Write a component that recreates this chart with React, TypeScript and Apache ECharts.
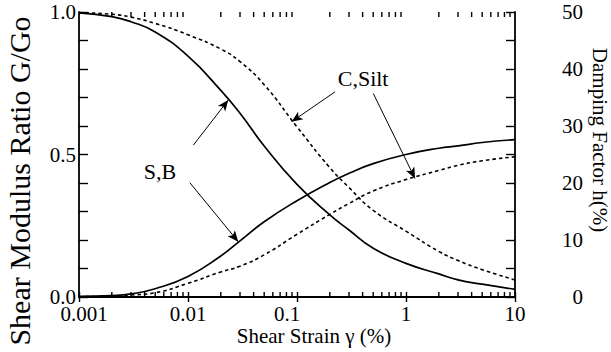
import React, { useEffect, useRef } from "react";
import * as echarts from "echarts";

// Shear strain (%) sample points
const gamma = [0.001, 0.002, 0.003, 0.005, 0.01, 0.02, 0.03, 0.05, 0.1, 0.2, 0.3, 0.5, 1, 2, 3, 5, 10];
// G/Go curves
const gSB = [0.997, 0.984, 0.966, 0.93, 0.845, 0.725, 0.645, 0.53, 0.395, 0.288, 0.235, 0.171, 0.118, 0.081, 0.06, 0.045, 0.027];
const gCS = [0.998, 0.992, 0.982, 0.96, 0.92, 0.87, 0.826, 0.745, 0.597, 0.454, 0.384, 0.304, 0.231, 0.16, 0.128, 0.096, 0.06];
// Damping factor h (%)
const hSB = [0.1, 0.25, 0.55, 1.45, 3.6, 7.2, 9.85, 13.2, 16.9, 20.1, 21.7, 23.4, 25.0, 26.1, 26.5, 27.1, 27.6];
const hCS = [0.05, 0.15, 0.35, 0.75, 2.4, 4.4, 5.4, 7.4, 11.0, 14.5, 16.4, 18.6, 20.6, 22.2, 23.1, 23.9, 24.6];

const xTickLabels = ["{a|0.001}", "{n|0.01}", "{b|0.1}", "{n|1}", "{n|10}"];
const minorTicks = [
  0.002, 0.003, 0.004, 0.005, 0.006, 0.007, 0.008, 0.009,
  0.02, 0.03, 0.04, 0.05, 0.06, 0.07, 0.08, 0.09,
  0.2, 0.3, 0.4, 0.5, 0.6, 0.7, 0.8, 0.9,
  2, 3, 4, 5, 6, 7, 8, 9,
];

// annotation arrows (data coordinates): [start, end]
const arrowSBtoG = [[0.0112, 0.533], [0.0234, 0.691]];
const arrowSBtoH = [[0.0104, 20.05], [0.0289, 9.7]];
const arrowCStoG = [[0.2234, 0.72], [0.0893, 0.615]];
const arrowCStoH = [[0.501, 35.7], [1.21, 20.8]];
const labelSB = [0.00553, 0.44];
const labelCS = [0.404, 0.765];

const FONT = "Liberation Serif";

function arrow(a: number[][]) {
  return {
    silent: true,
    symbol: ["none", "arrow"],
    symbolSize: [7, 11],
    lineStyle: { color: "#000", width: 1, type: "solid" },
    label: { show: false },
    data: [[{ coord: a[0] }, { coord: a[1] }]],
  };
}

function textMark(txt: string, c: number[]) {
  return {
    silent: true,
    symbol: "rect",
    symbolSize: 1,
    itemStyle: { color: "transparent" },
    label: { show: true, position: "inside", formatter: txt, color: "#000", fontSize: 22, fontFamily: FONT },
    data: [{ coord: c }],
  };
}

export default function App() {
  const ref = useRef<HTMLDivElement>(null);
  useEffect(() => {
    const chart = echarts.init(ref.current!, null, { renderer: "svg" });
    const axisLine = { show: true, lineStyle: { color: "#000", width: 1.8 } };
    const zip = (ys: number[]) => gamma.map((g, i) => [g, ys[i]]);
    const st = { stroke: "#000", lineWidth: 1.4 };
    const lab = { color: "#000", fontSize: 21, fontFamily: FONT };
    const tick = (len: number) => ({ show: true, inside: true, length: len, lineStyle: { color: "#000", width: 1.4 } });
    chart.setOption({
      animation: false,
      backgroundColor: "#fff",
      grid: { left: 79, right: 96, top: 12, bottom: 55 },
      xAxis: [
        {
          type: "log", logBase: 10, min: 0.001, max: 10,
          axisLine, axisTick: tick(5), splitLine: { show: false },
          axisLabel: {
            ...lab,
            margin: 6,
            formatter: (v: number) => xTickLabels[Math.round(Math.log10(v)) + 3] ?? "",
            rich: {
              a: { ...lab, padding: [0, 0, 0, 10] },
              b: { ...lab, padding: [0, 20, 0, 0] },
              n: { ...lab },
            },
          },
        },
        {
          type: "log", logBase: 10, min: 0.001, max: 10, position: "top",
          axisLine, axisTick: tick(5), splitLine: { show: false }, axisLabel: { show: false },
        },
      ],
      yAxis: [
        {
          type: "value", min: 0, max: 1, interval: 0.1,
          axisLine, axisTick: tick(9), splitLine: { show: false },
          axisLabel: {
            ...lab, margin: 3,
            formatter: (v: number) => { const r = Math.round(v * 10); return r % 5 === 0 ? (r / 10).toFixed(1) : ""; },
          },
        },
        {
          type: "value", min: 0, max: 50, interval: 5, position: "right",
          axisLine, axisTick: tick(9), splitLine: { show: false },
          axisLabel: { ...lab, align: "right", margin: 68, formatter: (v: number) => (Math.round(v) % 10 === 0 ? String(Math.round(v)) : "") },
        },
      ],
      series: [
        { type: "line", name: "G S,B", xAxisIndex: 0, yAxisIndex: 0, data: zip(gSB), smooth: true, symbol: "none", lineStyle: { color: "#000", width: 1.7 }, markLine: arrow(arrowSBtoG), markPoint: textMark("S,B", labelSB) },
        { type: "line", name: "G C,Silt", xAxisIndex: 0, yAxisIndex: 0, data: zip(gCS), smooth: true, symbol: "none", lineStyle: { color: "#000", width: 1.6, type: [3.5, 3] }, markLine: arrow(arrowCStoG), markPoint: textMark("C,Silt", labelCS) },
        { type: "line", name: "h S,B", xAxisIndex: 0, yAxisIndex: 1, data: zip(hSB), smooth: true, symbol: "none", lineStyle: { color: "#000", width: 1.7 }, markLine: arrow(arrowSBtoH) },
        { type: "line", name: "h C,Silt", xAxisIndex: 0, yAxisIndex: 1, data: zip(hCS), smooth: true, symbol: "none", lineStyle: { color: "#000", width: 1.6, type: [3.5, 3] }, markLine: arrow(arrowCStoH) },
        {
          type: "custom", name: "minor x ticks", xAxisIndex: 0, yAxisIndex: 0, silent: true, clip: false, z: 5,
          data: minorTicks.map((v) => [v, 0.5]),
          renderItem: (params: any, api: any) => {
            const v = api.value(0);
            const pb = api.coord([v, 0]);
            const pt = api.coord([v, 1]);
            return {
              type: "group",
              children: [
                { type: "line", shape: { x1: pb[0], y1: pb[1] - 5, x2: pb[0], y2: pb[1] }, style: st },
                { type: "line", shape: { x1: pt[0], y1: pt[1], x2: pt[0], y2: pt[1] + 5 }, style: st },
              ],
            };
          },
        },
      ],
      graphic: [
        { type: "text", x: 19, y: 181, rotation: Math.PI / 2, style: { text: "Shear Modulus Ratio G/Go", fill: "#000", fontSize: 30, fontFamily: FONT, align: "center", verticalAlign: "middle" } },
        { type: "text", x: 600, y: 140, rotation: -Math.PI / 2, style: { text: "Damping Factor h(%)", fill: "#000", fontSize: 21, fontFamily: FONT, align: "center", verticalAlign: "middle" } },
        { type: "text", x: 314, y: 336, style: { text: "Shear Strain γ (%)", fill: "#000", fontSize: 21, fontFamily: FONT, align: "center", verticalAlign: "middle" } },
      ],
    });
    return () => chart.dispose();
  }, []);
  return <div ref={ref} style={{ position: "fixed", left: 0, top: 0, width: 611, height: 352, background: "#fff" }} />;
}
